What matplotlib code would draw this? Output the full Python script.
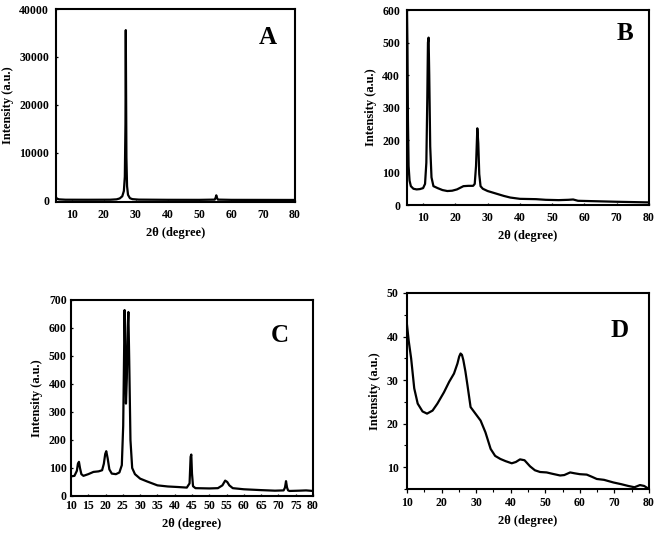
import numpy as np
import matplotlib
matplotlib.use('Agg')
import matplotlib.pyplot as plt
from matplotlib.ticker import MultipleLocator

plt.rcParams['font.family'] = ['Liberation Serif', 'DejaVu Serif']
plt.rcParams['font.weight'] = 'bold'

# A
a_x = [5, 5.3, 6, 8, 15, 22, 24, 25, 25.8, 26.3, 26.6, 26.8, 26.9, 27.0, 27.1, 27.3, 27.6, 28.2, 29,
       31, 40, 50, 54.8, 55.1, 55.3, 55.5, 55.8, 60, 70, 80]
a_y = [700, 400, 250, 180, 170, 180, 260, 450, 900, 2000, 5000, 16000, 35600, 22000, 9000, 3000, 1200,
       500, 300, 200, 160, 150, 200, 600, 1100, 600, 200, 150, 140, 130]
# B
b_x = [5, 5.15, 5.3, 5.5, 5.8, 6.2, 7, 8, 9, 10, 10.6, 11.0, 11.3, 11.5, 11.7, 11.9, 12.2, 12.6, 13.2,
       14.5, 16, 17.5, 19, 20.5, 21.5, 22.5, 24, 25.5, 26, 26.4, 26.8, 27.1, 27.4, 27.8, 28.5, 30, 32,
       35, 37, 40, 45, 48, 52, 55, 56.5, 58, 62, 70, 80]
b_y = [600, 480, 260, 120, 75, 58, 50, 48, 49, 52, 65, 130, 330, 500, 515, 400, 180, 85, 58,
       52, 46, 43, 44, 48, 53, 58, 59, 59, 65, 120, 236, 190, 95, 58, 50, 43, 37,
       28, 23, 19, 18, 16, 15, 16, 17, 13, 12, 10, 8]
# C
c_x = [10, 11, 11.7, 12.0, 12.3, 12.6, 13.0, 13.6, 15, 16.5, 18, 19, 19.5, 19.9, 20.2, 20.6, 21.1,
       21.8, 23, 24, 24.7, 25.1, 25.35, 25.5, 25.65, 25.9, 26.15, 26.4, 26.6, 26.85, 27.2, 27.7, 28.5,
       30, 32, 35, 38, 41, 43.5, 44.3, 44.6, 44.8, 45.0, 45.3, 46, 50, 52.5, 53.8, 54.6, 55.2, 55.8,
       56.8, 60, 65, 69, 71.5, 71.9, 72.2, 72.5, 72.8, 73.2, 76, 78, 80]
c_y = [70, 72, 90, 115, 122, 100, 78, 72, 78, 86, 88, 92, 115, 150, 160, 135, 95,
       80, 78, 84, 110, 250, 500, 664, 550, 330, 420, 600, 657, 480, 200, 100, 78,
       62, 52, 38, 34, 32, 30, 45, 140, 148, 80, 35, 28, 27, 28, 38, 55, 50, 38,
       28, 24, 21, 19, 20, 30, 53, 30, 20, 18, 19, 20, 18]
# D
d_x = [10, 10.5, 11.2, 12.1, 13.1, 14.5, 15.8, 17.4, 18.8, 20.7, 22.2, 23.6, 24.6, 25.1, 25.5, 25.9,
       26.3, 26.9, 27.5, 28.4, 29.8, 31.3, 32.7, 34.2, 35.5, 37, 38.5, 40.3, 41.5, 42.7, 44, 45.6,
       47, 48.5, 50.4, 52, 54.3, 55.5, 57.2, 58.5, 60, 62, 63.5, 64.9, 67, 69.7, 72, 74, 75.8, 77.4,
       78.6, 80]
d_y = [42.7, 39, 35, 28.1, 24.6, 22.8, 22.3, 23, 24.6, 27.2, 29.6, 31.5, 33.8, 35.4, 36.1, 35.8,
       34.6, 32, 28.8, 23.8, 22.3, 20.7, 18, 14.2, 12.6, 11.9, 11.4, 10.9, 11.2, 11.8, 11.6, 10.2,
       9.3, 8.9, 8.8, 8.5, 8.1, 8.2, 8.8, 8.6, 8.4, 8.3, 7.8, 7.3, 7.1, 6.5, 6.1, 5.7, 5.4, 5.9,
       5.7, 5.0]

fig = plt.figure(figsize=(6.61, 5.35), dpi=100)

def setup(ax, letter, lx, ly):
    for s in ax.spines.values():
        s.set_linewidth(1.5)
    ax.tick_params(labelsize=8.5, width=0.9)
    for lab in ax.get_xticklabels() + ax.get_yticklabels():
        lab.set_fontweight('bold')
    ax.set_xlabel('2θ (degree)', fontsize=9, fontweight='bold')
    ax.set_ylabel('Intensity (a.u.)', fontsize=9, fontweight='bold')
    ax.text(lx, ly, letter, transform=ax.transAxes, fontsize=18, fontweight='bold',
            ha='center', va='center')

axA = fig.add_axes([0.0847, 0.6224, 0.3616, 0.3607])
axA.plot(a_x, a_y, color='black', lw=1.6)
axA.set_xlim(5, 80)
axA.set_ylim(-300, 40000)
axA.set_xticks(range(10, 81, 10))
axA.set_yticks(range(0, 40001, 10000))
axA.tick_params(direction='in', length=1.5, pad=5)
setup(axA, 'A', 0.887, 0.85)

axB = fig.add_axes([0.6157, 0.6168, 0.3661, 0.3645])
axB.plot(b_x, b_y, color='black', lw=1.6)
axB.set_xlim(5, 80)
axB.set_ylim(0, 600)
axB.set_xticks(range(10, 81, 10))
axB.set_yticks(range(0, 601, 100))
axB.tick_params(direction='in', length=1.5, pad=5)
setup(axB, 'B', 0.90, 0.88)

axC = fig.add_axes([0.1074, 0.0729, 0.3661, 0.3664])
axC.plot(c_x, c_y, color='black', lw=1.6)
axC.set_xlim(10, 80)
axC.set_ylim(0, 700)
axC.set_xticks(range(10, 81, 5))
axC.set_yticks(range(0, 701, 100))
axC.tick_params(direction='in', length=1.5, pad=3)
setup(axC, 'C', 0.864, 0.82)

axD = fig.add_axes([0.6157, 0.086, 0.3661, 0.3664])
axD.plot(d_x, d_y, color='black', lw=1.6)
axD.set_xlim(10, 80)
axD.set_ylim(5, 50)
axD.set_xticks(range(10, 81, 10))
axD.set_yticks(range(10, 51, 10))
axD.xaxis.set_minor_locator(MultipleLocator(5))
axD.yaxis.set_minor_locator(MultipleLocator(5))
axD.tick_params(which='major', direction='out', length=3, pad=3)
axD.tick_params(which='minor', direction='out', length=2, width=0.8)
setup(axD, 'D', 0.88, 0.81)

fig.savefig('out.png', dpi=100)
